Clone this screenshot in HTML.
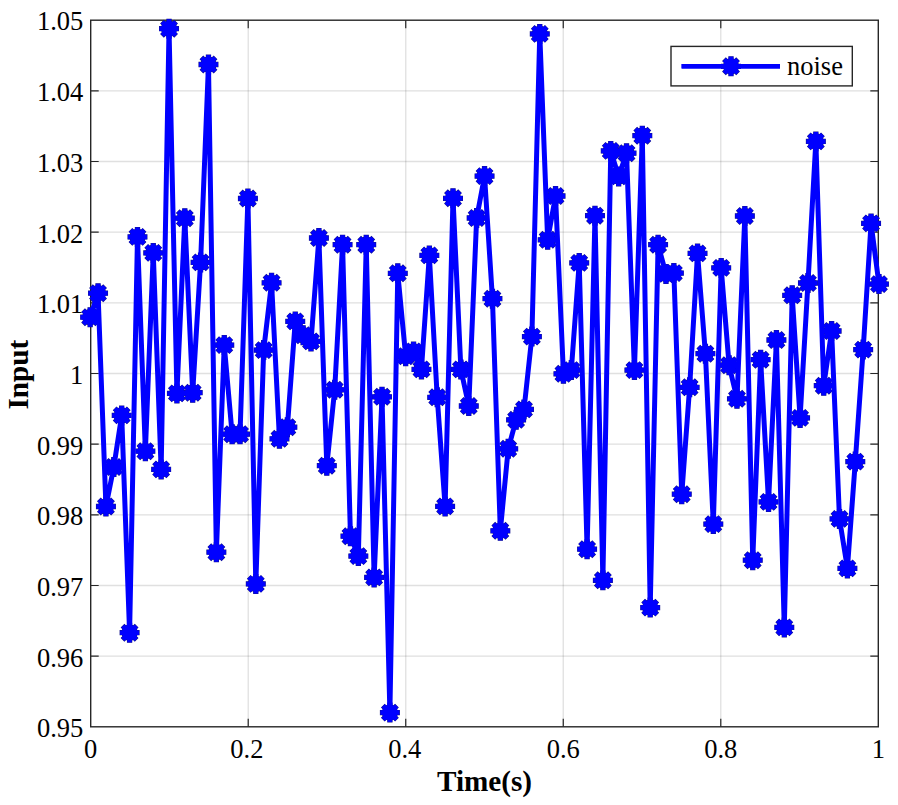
<!DOCTYPE html><html><head><meta charset="utf-8"><style>html,body{margin:0;padding:0;background:#fff;}svg{display:block;}text{font-family:"Liberation Serif",serif;fill:#000;}</style></head><body><svg width="898" height="805" viewBox="0 0 898 805"><defs><g id="m"><circle r="7.6" fill="#0000ff"/><path d="M-9.5 0H9.5M0 -9.5V9.5M-6.72 -6.72L6.72 6.72M-6.72 6.72L6.72 -6.72" stroke="#0000ff" stroke-width="4.5" fill="none"/></g><g id="mr"><circle r="8.1" fill="#12128c"/><path d="M-10.0 0H10.0M0 -10.0V10.0M-7.07 -7.07L7.07 7.07M-7.07 7.07L7.07 -7.07" stroke="#12128c" stroke-width="5.3" fill="none"/></g></defs><rect x="0" y="0" width="898" height="805" fill="#fff"/><path d="M90.70 656.14H878.30M90.70 585.48H878.30M90.70 514.82H878.30M90.70 444.16H878.30M90.70 373.50H878.30M90.70 302.84H878.30M90.70 232.18H878.30M90.70 161.52H878.30M90.70 90.86H878.30" stroke="#262626" stroke-opacity="0.14" stroke-width="1.3" fill="none"/><path d="M248.22 20.20V726.80M405.74 20.20V726.80M563.26 20.20V726.80M720.78 20.20V726.80" stroke="#262626" stroke-opacity="0.14" stroke-width="1.3" fill="none"/><path d="M90.70 656.14h8M878.30 656.14h-8M90.70 585.48h8M878.30 585.48h-8M90.70 514.82h8M878.30 514.82h-8M90.70 444.16h8M878.30 444.16h-8M90.70 373.50h8M878.30 373.50h-8M90.70 302.84h8M878.30 302.84h-8M90.70 232.18h8M878.30 232.18h-8M90.70 161.52h8M878.30 161.52h-8M90.70 90.86h8M878.30 90.86h-8M248.22 726.80v-8M248.22 20.20v8M405.74 726.80v-8M405.74 20.20v8M563.26 726.80v-8M563.26 20.20v8M720.78 726.80v-8M720.78 20.20v8" stroke="#262626" stroke-width="1.2" fill="none"/><rect x="90.70" y="20.20" width="787.60" height="706.60" fill="none" stroke="#262626" stroke-width="1.4"/><use href="#mr" x="90.15" y="317.20"/><use href="#mr" x="98.04" y="293.20"/><use href="#mr" x="105.93" y="506.50"/><use href="#mr" x="113.81" y="467.00"/><use href="#mr" x="121.70" y="415.40"/><use href="#mr" x="129.59" y="632.70"/><use href="#mr" x="137.48" y="236.90"/><use href="#mr" x="145.37" y="451.20"/><use href="#mr" x="153.25" y="252.90"/><use href="#mr" x="161.14" y="469.40"/><use href="#mr" x="169.03" y="28.70"/><use href="#mr" x="176.92" y="393.40"/><use href="#mr" x="184.81" y="218.20"/><use href="#mr" x="192.69" y="392.70"/><use href="#mr" x="200.58" y="262.40"/><use href="#mr" x="208.47" y="64.50"/><use href="#mr" x="216.36" y="552.20"/><use href="#mr" x="224.25" y="345.10"/><use href="#mr" x="232.13" y="434.20"/><use href="#mr" x="240.02" y="434.20"/><use href="#mr" x="247.91" y="198.50"/><use href="#mr" x="255.80" y="583.90"/><use href="#mr" x="263.69" y="350.10"/><use href="#mr" x="271.57" y="282.80"/><use href="#mr" x="279.46" y="438.80"/><use href="#mr" x="287.35" y="427.20"/><use href="#mr" x="295.24" y="321.40"/><use href="#mr" x="303.13" y="335.20"/><use href="#mr" x="311.01" y="341.40"/><use href="#mr" x="318.90" y="238.00"/><use href="#mr" x="326.79" y="465.70"/><use href="#mr" x="334.68" y="389.80"/><use href="#mr" x="342.57" y="244.70"/><use href="#mr" x="350.45" y="536.20"/><use href="#mr" x="358.34" y="556.10"/><use href="#mr" x="366.23" y="244.70"/><use href="#mr" x="374.12" y="577.40"/><use href="#mr" x="382.01" y="396.80"/><use href="#mr" x="389.89" y="712.60"/><use href="#mr" x="397.78" y="273.30"/><use href="#mr" x="405.67" y="356.30"/><use href="#mr" x="413.56" y="351.40"/><use href="#mr" x="421.45" y="369.40"/><use href="#mr" x="429.33" y="255.40"/><use href="#mr" x="437.22" y="397.30"/><use href="#mr" x="445.11" y="506.40"/><use href="#mr" x="453.00" y="198.30"/><use href="#mr" x="460.89" y="369.40"/><use href="#mr" x="468.77" y="406.00"/><use href="#mr" x="476.66" y="218.00"/><use href="#mr" x="484.55" y="176.10"/><use href="#mr" x="492.44" y="298.70"/><use href="#mr" x="500.33" y="530.80"/><use href="#mr" x="508.21" y="448.80"/><use href="#mr" x="516.10" y="419.80"/><use href="#mr" x="523.99" y="409.40"/><use href="#mr" x="531.88" y="336.60"/><use href="#mr" x="539.77" y="33.90"/><use href="#mr" x="547.65" y="239.80"/><use href="#mr" x="555.54" y="196.00"/><use href="#mr" x="563.43" y="373.80"/><use href="#mr" x="571.32" y="370.10"/><use href="#mr" x="579.21" y="262.90"/><use href="#mr" x="587.09" y="549.20"/><use href="#mr" x="594.98" y="215.70"/><use href="#mr" x="602.87" y="580.30"/><use href="#mr" x="610.76" y="150.90"/><use href="#mr" x="618.65" y="176.40"/><use href="#mr" x="626.53" y="153.20"/><use href="#mr" x="634.42" y="370.10"/><use href="#mr" x="642.31" y="135.70"/><use href="#mr" x="650.20" y="607.60"/><use href="#mr" x="658.09" y="244.70"/><use href="#mr" x="665.97" y="273.90"/><use href="#mr" x="673.86" y="273.10"/><use href="#mr" x="681.75" y="494.20"/><use href="#mr" x="689.64" y="387.30"/><use href="#mr" x="697.53" y="253.40"/><use href="#mr" x="705.41" y="353.70"/><use href="#mr" x="713.30" y="524.10"/><use href="#mr" x="721.19" y="267.90"/><use href="#mr" x="729.08" y="365.20"/><use href="#mr" x="736.97" y="398.80"/><use href="#mr" x="744.85" y="216.00"/><use href="#mr" x="752.74" y="560.20"/><use href="#mr" x="760.63" y="359.70"/><use href="#mr" x="768.52" y="501.90"/><use href="#mr" x="776.41" y="340.00"/><use href="#mr" x="784.29" y="627.40"/><use href="#mr" x="792.18" y="295.30"/><use href="#mr" x="800.07" y="417.90"/><use href="#mr" x="807.96" y="283.00"/><use href="#mr" x="815.85" y="141.40"/><use href="#mr" x="823.73" y="385.70"/><use href="#mr" x="831.62" y="331.00"/><use href="#mr" x="839.51" y="518.90"/><use href="#mr" x="847.40" y="568.40"/><use href="#mr" x="855.29" y="461.60"/><use href="#mr" x="863.17" y="349.60"/><use href="#mr" x="871.06" y="223.40"/><use href="#mr" x="878.95" y="284.10"/><polyline points="90.15,317.20 98.04,293.20 105.93,506.50 113.81,467.00 121.70,415.40 129.59,632.70 137.48,236.90 145.37,451.20 153.25,252.90 161.14,469.40 169.03,28.70 176.92,393.40 184.81,218.20 192.69,392.70 200.58,262.40 208.47,64.50 216.36,552.20 224.25,345.10 232.13,434.20 240.02,434.20 247.91,198.50 255.80,583.90 263.69,350.10 271.57,282.80 279.46,438.80 287.35,427.20 295.24,321.40 303.13,335.20 311.01,341.40 318.90,238.00 326.79,465.70 334.68,389.80 342.57,244.70 350.45,536.20 358.34,556.10 366.23,244.70 374.12,577.40 382.01,396.80 389.89,712.60 397.78,273.30 405.67,356.30 413.56,351.40 421.45,369.40 429.33,255.40 437.22,397.30 445.11,506.40 453.00,198.30 460.89,369.40 468.77,406.00 476.66,218.00 484.55,176.10 492.44,298.70 500.33,530.80 508.21,448.80 516.10,419.80 523.99,409.40 531.88,336.60 539.77,33.90 547.65,239.80 555.54,196.00 563.43,373.80 571.32,370.10 579.21,262.90 587.09,549.20 594.98,215.70 602.87,580.30 610.76,150.90 618.65,176.40 626.53,153.20 634.42,370.10 642.31,135.70 650.20,607.60 658.09,244.70 665.97,273.90 673.86,273.10 681.75,494.20 689.64,387.30 697.53,253.40 705.41,353.70 713.30,524.10 721.19,267.90 729.08,365.20 736.97,398.80 744.85,216.00 752.74,560.20 760.63,359.70 768.52,501.90 776.41,340.00 784.29,627.40 792.18,295.30 800.07,417.90 807.96,283.00 815.85,141.40 823.73,385.70 831.62,331.00 839.51,518.90 847.40,568.40 855.29,461.60 863.17,349.60 871.06,223.40 878.95,284.10" fill="none" stroke="#0000ff" stroke-width="5" stroke-linejoin="round"/><use href="#m" x="90.15" y="317.20"/><use href="#m" x="98.04" y="293.20"/><use href="#m" x="105.93" y="506.50"/><use href="#m" x="113.81" y="467.00"/><use href="#m" x="121.70" y="415.40"/><use href="#m" x="129.59" y="632.70"/><use href="#m" x="137.48" y="236.90"/><use href="#m" x="145.37" y="451.20"/><use href="#m" x="153.25" y="252.90"/><use href="#m" x="161.14" y="469.40"/><use href="#m" x="169.03" y="28.70"/><use href="#m" x="176.92" y="393.40"/><use href="#m" x="184.81" y="218.20"/><use href="#m" x="192.69" y="392.70"/><use href="#m" x="200.58" y="262.40"/><use href="#m" x="208.47" y="64.50"/><use href="#m" x="216.36" y="552.20"/><use href="#m" x="224.25" y="345.10"/><use href="#m" x="232.13" y="434.20"/><use href="#m" x="240.02" y="434.20"/><use href="#m" x="247.91" y="198.50"/><use href="#m" x="255.80" y="583.90"/><use href="#m" x="263.69" y="350.10"/><use href="#m" x="271.57" y="282.80"/><use href="#m" x="279.46" y="438.80"/><use href="#m" x="287.35" y="427.20"/><use href="#m" x="295.24" y="321.40"/><use href="#m" x="303.13" y="335.20"/><use href="#m" x="311.01" y="341.40"/><use href="#m" x="318.90" y="238.00"/><use href="#m" x="326.79" y="465.70"/><use href="#m" x="334.68" y="389.80"/><use href="#m" x="342.57" y="244.70"/><use href="#m" x="350.45" y="536.20"/><use href="#m" x="358.34" y="556.10"/><use href="#m" x="366.23" y="244.70"/><use href="#m" x="374.12" y="577.40"/><use href="#m" x="382.01" y="396.80"/><use href="#m" x="389.89" y="712.60"/><use href="#m" x="397.78" y="273.30"/><use href="#m" x="405.67" y="356.30"/><use href="#m" x="413.56" y="351.40"/><use href="#m" x="421.45" y="369.40"/><use href="#m" x="429.33" y="255.40"/><use href="#m" x="437.22" y="397.30"/><use href="#m" x="445.11" y="506.40"/><use href="#m" x="453.00" y="198.30"/><use href="#m" x="460.89" y="369.40"/><use href="#m" x="468.77" y="406.00"/><use href="#m" x="476.66" y="218.00"/><use href="#m" x="484.55" y="176.10"/><use href="#m" x="492.44" y="298.70"/><use href="#m" x="500.33" y="530.80"/><use href="#m" x="508.21" y="448.80"/><use href="#m" x="516.10" y="419.80"/><use href="#m" x="523.99" y="409.40"/><use href="#m" x="531.88" y="336.60"/><use href="#m" x="539.77" y="33.90"/><use href="#m" x="547.65" y="239.80"/><use href="#m" x="555.54" y="196.00"/><use href="#m" x="563.43" y="373.80"/><use href="#m" x="571.32" y="370.10"/><use href="#m" x="579.21" y="262.90"/><use href="#m" x="587.09" y="549.20"/><use href="#m" x="594.98" y="215.70"/><use href="#m" x="602.87" y="580.30"/><use href="#m" x="610.76" y="150.90"/><use href="#m" x="618.65" y="176.40"/><use href="#m" x="626.53" y="153.20"/><use href="#m" x="634.42" y="370.10"/><use href="#m" x="642.31" y="135.70"/><use href="#m" x="650.20" y="607.60"/><use href="#m" x="658.09" y="244.70"/><use href="#m" x="665.97" y="273.90"/><use href="#m" x="673.86" y="273.10"/><use href="#m" x="681.75" y="494.20"/><use href="#m" x="689.64" y="387.30"/><use href="#m" x="697.53" y="253.40"/><use href="#m" x="705.41" y="353.70"/><use href="#m" x="713.30" y="524.10"/><use href="#m" x="721.19" y="267.90"/><use href="#m" x="729.08" y="365.20"/><use href="#m" x="736.97" y="398.80"/><use href="#m" x="744.85" y="216.00"/><use href="#m" x="752.74" y="560.20"/><use href="#m" x="760.63" y="359.70"/><use href="#m" x="768.52" y="501.90"/><use href="#m" x="776.41" y="340.00"/><use href="#m" x="784.29" y="627.40"/><use href="#m" x="792.18" y="295.30"/><use href="#m" x="800.07" y="417.90"/><use href="#m" x="807.96" y="283.00"/><use href="#m" x="815.85" y="141.40"/><use href="#m" x="823.73" y="385.70"/><use href="#m" x="831.62" y="331.00"/><use href="#m" x="839.51" y="518.90"/><use href="#m" x="847.40" y="568.40"/><use href="#m" x="855.29" y="461.60"/><use href="#m" x="863.17" y="349.60"/><use href="#m" x="871.06" y="223.40"/><use href="#m" x="878.95" y="284.10"/><text x="83.3" y="737.30" font-size="26.5" text-anchor="end">0.95</text><text x="83.3" y="666.64" font-size="26.5" text-anchor="end">0.96</text><text x="83.3" y="595.98" font-size="26.5" text-anchor="end">0.97</text><text x="83.3" y="525.32" font-size="26.5" text-anchor="end">0.98</text><text x="83.3" y="454.66" font-size="26.5" text-anchor="end">0.99</text><text x="83.3" y="384.00" font-size="26.5" text-anchor="end">1</text><text x="83.3" y="313.34" font-size="26.5" text-anchor="end">1.01</text><text x="83.3" y="242.68" font-size="26.5" text-anchor="end">1.02</text><text x="83.3" y="171.72" font-size="26.5" text-anchor="end">1.03</text><text x="83.3" y="100.76" font-size="26.5" text-anchor="end">1.04</text><text x="83.3" y="29.80" font-size="26.5" text-anchor="end">1.05</text><text x="90.70" y="757.8" font-size="26.5" text-anchor="middle">0</text><text x="246.92" y="757.8" font-size="26.5" text-anchor="middle">0.2</text><text x="404.74" y="757.8" font-size="26.5" text-anchor="middle">0.4</text><text x="563.26" y="757.8" font-size="26.5" text-anchor="middle">0.6</text><text x="720.78" y="757.8" font-size="26.5" text-anchor="middle">0.8</text><text x="878.30" y="757.8" font-size="26.5" text-anchor="middle">1</text><text x="484.5" y="791.2" font-size="29.2" font-weight="bold" text-anchor="middle">Time(s)</text><text transform="translate(28 374.6) rotate(-90)" font-size="29.2" font-weight="bold" text-anchor="middle">Input</text><rect x="671" y="46.4" width="181.3" height="39.5" fill="#fff" stroke="#262626" stroke-width="1.4"/><line x1="681.6" y1="66.3" x2="780" y2="66.3" stroke="#0000ff" stroke-width="4.5"/><use href="#mr" x="731" y="66.3"/><line x1="681.6" y1="66.3" x2="780" y2="66.3" stroke="#0000ff" stroke-width="4.5"/><use href="#m" x="731" y="66.3"/><text x="787" y="75.3" font-size="26.5">noise</text></svg></body></html>
